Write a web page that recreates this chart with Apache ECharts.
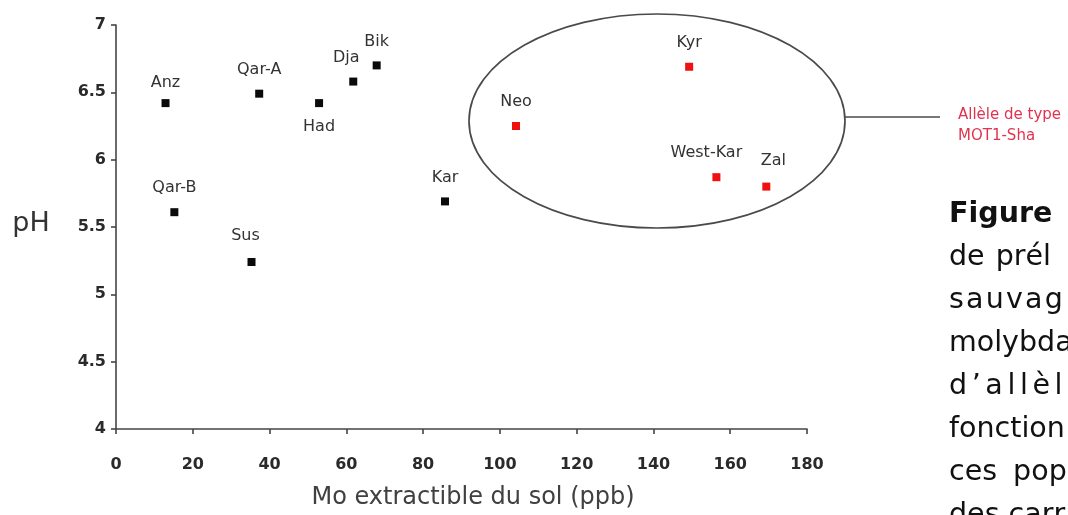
<!DOCTYPE html>
<html><head><meta charset="utf-8">
<script src="https://cdn.jsdelivr.net/npm/echarts@6/dist/echarts.min.js"></script>
<style>html,body{margin:0;padding:0;background:#fff;overflow:hidden}#c{width:1068px;height:515px}</style>
</head><body><div id="c"></div>
<script>
// ---- data ----
const blackNames = ['Anz', 'Qar-A', 'Had', 'Dja', 'Bik', 'Qar-B', 'Sus', 'Kar'];
const blackMo    = [12.9, 37.3, 52.9, 61.8, 67.9, 15.2, 35.3, 85.7];
const blackPH    = [6.42, 6.49, 6.42, 6.58, 6.70, 5.61, 5.24, 5.69];
const redNames   = ['Neo', 'Kyr', 'West-Kar', 'Zal'];
const redMo      = [104.2, 149.3, 156.4, 169.4];
const redPH      = [6.25, 6.69, 5.87, 5.80];
const xTickLabels = ['0', '20', '40', '60', '80', '100', '120', '140', '160', '180'];
const yTickLabels = ['4', '4.5', '5', '5.5', '6', '6.5', '7'];
const xTitle = 'Mo extractible du sol (ppb)';
const yTitle = 'pH';
const annotationLines = ['Allèle de type', 'MOT1-Sha'];
const captionLines = ['Figure', 'de prél', 'sauvag', 'molybda', 'd’allèl', 'fonction', 'ces pop', 'des carr'];

// ---- layout / style ----
const labelTweaks = {
  'Anz': { distance: 8 },
  'Had': { position: 'bottom', distance: 12 },
  'Dja': { offset: [-7, 0] },
  'Sus': { offset: [-6, -2] },
  'West-Kar': { offset: [-10, 0] },
  'Zal': { offset: [7, -2] }
};
const FONT = '"DejaVu Sans", Verdana, sans-serif';

function buildData(names, xs, ys) {
  return names.map((n, i) => {
    const item = { name: n, value: [xs[i], ys[i]] };
    if (labelTweaks[n]) item.label = Object.assign({}, labelTweaks[n]);
    return item;
  });
}

const labelStyle = {
  show: true, position: 'top', distance: 12,
  formatter: p => p.name,
  fontFamily: FONT, fontSize: 16, color: '#333'
};

const axisLineStyle = { color: '#454545', width: 1.6 };

// caption layout (justified paragraph cut by the right edge)
const capX = 949, capY0 = 215, capPitch = 43;
const capSpacing = [0, 0, 2.2, 0, 4.6, 0, 0, 0];   // extra letter spacing
const capWordSpacing = [0, 2, 0, 0, 0, 0, 7, 0];
const capBold = [true, false, false, false, false, false, false, false];

const measureCtx = document.createElement('canvas').getContext('2d');
const graphics = [];
captionLines.forEach((line, li) => {
  const font = (capBold[li] ? 'bold ' : '') + '28.5px ' + FONT;
  measureCtx.font = font;
  const y = capY0 + li * capPitch;
  let x = capX;
  for (const ch of line) {
    graphics.push({
      type: 'text', x: x, y: y, silent: true,
      style: { text: ch, font: font, fill: '#111', textVerticalAlign: 'middle', textAlign: 'left' }
    });
    x += measureCtx.measureText(ch).width + capSpacing[li] + (ch === ' ' ? capWordSpacing[li] : 0);
  }
});

// ellipse around the MOT1-Sha populations + leader line + red annotation
graphics.push({
  type: 'ellipse', shape: { cx: 657, cy: 121, rx: 188, ry: 107 }, silent: true,
  style: { fill: 'none', stroke: '#4a4a4a', lineWidth: 1.7 }
});
graphics.push({
  type: 'line', shape: { x1: 845, y1: 117, x2: 940, y2: 117 }, silent: true,
  style: { stroke: '#4a4a4a', lineWidth: 1.7 }
});
graphics.push({
  type: 'text', x: 958, y: 105, silent: true,
  style: { text: annotationLines.join('\n'), font: '15px ' + FONT, fill: '#e0334f', lineHeight: 21, textVerticalAlign: 'top' }
});
// axis titles
graphics.push({
  type: 'text', x: 473, y: 498, silent: true,
  style: { text: xTitle, font: '24px ' + FONT, fill: '#404040', textAlign: 'center', textVerticalAlign: 'middle' }
});
graphics.push({
  type: 'text', x: 31, y: 224, silent: true,
  style: { text: yTitle, font: '27px ' + FONT, fill: '#333', textAlign: 'center', textVerticalAlign: 'middle' }
});

const chart = echarts.init(document.getElementById('c'), null, { renderer: 'canvas' });
chart.setOption({
  animation: false,
  backgroundColor: '#fff',
  grid: { left: 116, top: 25, right: 261, bottom: 86, containLabel: false },
  xAxis: {
    type: 'value', min: 0, max: 180, interval: 20,
    axisLine: { show: true, onZero: false, lineStyle: axisLineStyle },
    axisTick: { show: true, length: 5, lineStyle: axisLineStyle },
    splitLine: { show: false },
    axisLabel: {
      margin: 28, fontFamily: FONT, fontWeight: 'bold', fontSize: 16, color: '#2a2a2a',
      formatter: v => xTickLabels[Math.round(v / 20)]
    }
  },
  yAxis: {
    type: 'value', min: 4, max: 7, interval: 0.5,
    axisLine: { show: true, onZero: false, lineStyle: axisLineStyle },
    axisTick: { show: true, length: 5, lineStyle: axisLineStyle },
    splitLine: { show: false },
    axisLabel: {
      margin: 10, fontFamily: FONT, fontWeight: 'bold', fontSize: 16, color: '#2a2a2a',
      formatter: v => yTickLabels[Math.round((v - 4) / 0.5)]
    }
  },
  series: [
    {
      name: 'Autres populations', type: 'scatter', symbol: 'rect', symbolSize: 8,
      itemStyle: { color: '#0a0a0a', opacity: 1 }, label: labelStyle,
      data: buildData(blackNames, blackMo, blackPH)
    },
    {
      name: 'Allèle de type MOT1-Sha', type: 'scatter', symbol: 'rect', symbolSize: 8,
      itemStyle: { color: '#f01010', opacity: 1 }, label: labelStyle,
      data: buildData(redNames, redMo, redPH)
    }
  ],
  graphic: graphics
});
</script>
</body></html>
